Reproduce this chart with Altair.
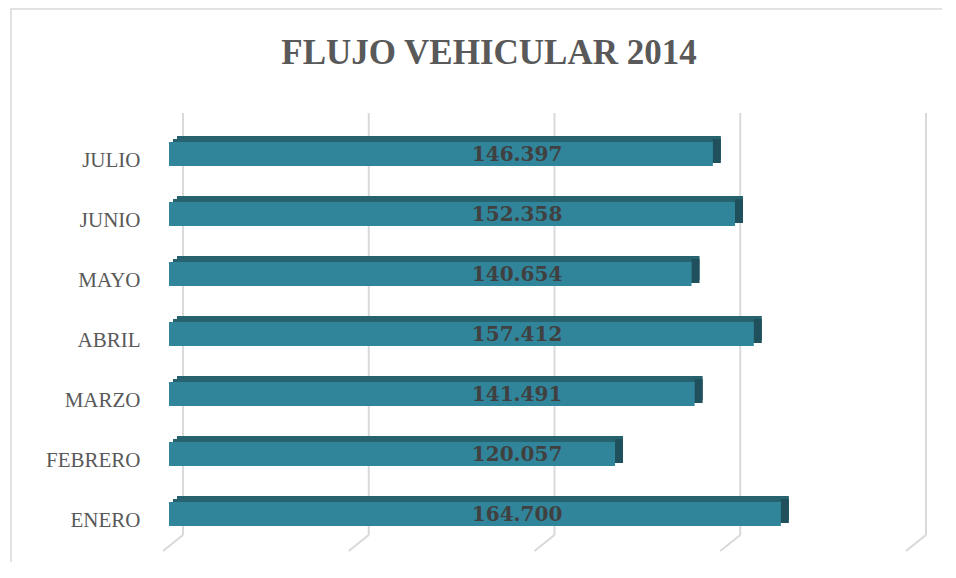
import altair as alt
import pandas as pd

months = ["ENERO", "FEBRERO", "MARZO", "ABRIL", "MAYO", "JUNIO", "JULIO"]
values = [164700, 120057, 141491, 157412, 140654, 152358, 146397]
grid_vals = [0, 50000, 100000, 150000, 200000]
title_text = "FLUJO VEHICULAR 2014"

df = pd.DataFrame({
    "mes": months,
    "valor": values,
    "etiqueta": [f"{v:,}".replace(",", ".") for v in values],
})
gdf = pd.DataFrame({"g": grid_vals})

W, H = 743, 420
order = list(reversed(months))
FRONT = "#31859b"
TOP = "#26636f"
SIDE = "#1f505c"
GRID = "#d9d9d9"
FONT = "Liberation Serif"

xs = alt.Scale(domain=[0, 200000], nice=False, zero=True)
ys = alt.Scale(paddingInner=0.6, paddingOuter=0.3)
Y = alt.Y("mes:N", sort=order, scale=ys, title=None,
          axis=alt.Axis(ticks=False, domain=False, grid=False, labelPadding=29,
                        labelOffset=7, labelFont=FONT, labelFontSize=21,
                        labelColor="#595959"))

frame = alt.Chart(pd.DataFrame({"a": [0]})).mark_rect(
    fill=None, stroke=GRID, strokeWidth=1.5
).encode(x=alt.value(-158), x2=alt.value(1100), y=alt.value(-115), y2=alt.value(1100))

title = alt.Chart(pd.DataFrame({"t": [title_text]})).mark_text(
    font=FONT, fontSize=35, fontWeight="bold", color="#595959",
    align="center", baseline="alphabetic"
).encode(x=alt.value(320), y=alt.value(-60), text="t:N")

grid_v = alt.Chart(gdf).mark_rule(color=GRID, strokeWidth=2, xOffset=14).encode(
    x=alt.X("g:Q", scale=xs, axis=None), y=alt.value(-11), y2=alt.value(411))
grid_s = alt.Chart(gdf).mark_rule(color=GRID, strokeWidth=2, xOffset=14, x2Offset=-6).encode(
    x=alt.X("g:Q", scale=xs, axis=None), x2="g:Q", y=alt.value(411), y2=alt.value(427))

base = alt.Chart(df)
top1 = base.mark_bar(color=TOP, xOffset=8, x2Offset=8, yOffset=-6, y2Offset=-6).encode(
    x=alt.X("valor:Q", scale=xs, axis=None), y=Y)
top2 = base.mark_bar(color=TOP, xOffset=4, x2Offset=4, yOffset=-3, y2Offset=-3).encode(
    x=alt.X("valor:Q", scale=xs, axis=None), y=Y)
side = base.mark_bar(color=SIDE, xOffset=0, x2Offset=8, yOffset=-3, y2Offset=-3).encode(
    x=alt.X("valor:Q", scale=xs, axis=None), x2="valor:Q", y=Y)
front = base.mark_bar(color=FRONT).encode(
    x=alt.X("valor:Q", scale=xs, axis=None), y=Y)
labels = base.mark_text(font="DejaVu Serif", fontSize=20, fontWeight="bold", color="#404040",
                        align="center", baseline="alphabetic", dy=7).encode(
    x=alt.datum(93700, scale=xs), y=Y, text="etiqueta:N")

chart = alt.layer(frame, title, grid_v, grid_s, top1, top2, side, front, labels).properties(
    width=W, height=H,
    autosize=alt.AutoSizeParams(type="none"),
    padding={"left": 161, "top": 116, "right": 30, "bottom": 18},
    background="white",
).configure_view(stroke=None)

chart.save("out.html", embed_options={"renderer": "svg", "actions": False})
